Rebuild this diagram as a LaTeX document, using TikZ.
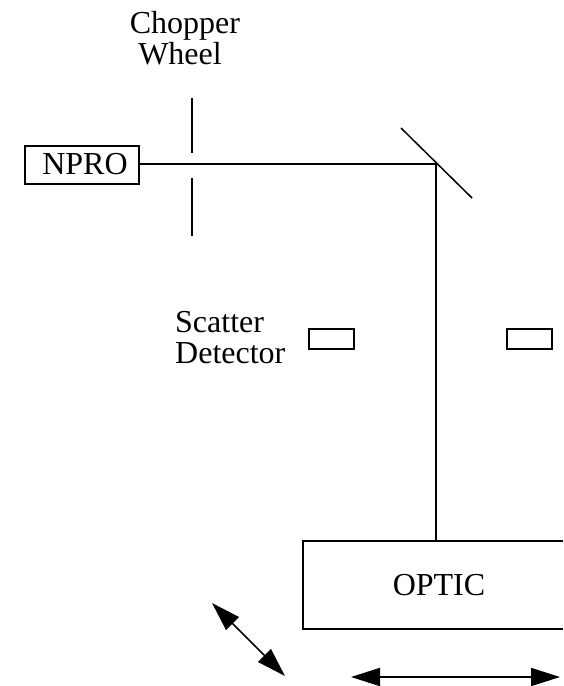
\documentclass[tikz,border=0pt]{standalone}
\usepackage{fontspec}
\setmainfont{Liberation Serif}
\usetikzlibrary{arrows.meta}
\tikzset{
  line/.style={line width=2pt,black},
  thinline/.style={line width=1.5pt,black},
  box/.style={draw,line width=2pt,inner sep=0pt,minimum width=#1},
  txt/.style={inner sep=0pt,font=\fontsize{32}{32}\selectfont,text=black},
  dbl/.style={{Triangle[length=29pt,width=18pt]}-{Triangle[length=29pt,width=18pt]}}
}
\begin{document}
\begin{tikzpicture}[x=1pt,y=-1pt]
\useasboundingbox (0,0) rectangle (563,686);
% NPRO and beam
\node[box=114pt,minimum height=38pt] (npro) at (82,165) {};
\node[txt,anchor=base] (nprotext) at (85,174) {NPRO};
\coordinate (mirrorhit) at (436,164);
\draw[line] (npro.east |- mirrorhit) -- (mirrorhit);
% chopper wheel
\coordinate (chopAtop) at (192,98);
\coordinate (chopAbot) at (192,153);
\coordinate (chopBtop) at (192,178);
\coordinate (chopBbot) at (192,236);
\draw[line] (chopAtop) -- (chopAbot);
\draw[line] (chopBtop) -- (chopBbot);
\node[txt,anchor=base] (chopper) at (185,33) {Chopper};
\node[txt,anchor=base] (wheel) at (180,64) {Wheel};
% mirror
\coordinate (mirrorA) at (401,128);
\coordinate (mirrorB) at (472,198);
\draw[thinline] (mirrorA) -- (mirrorB);
% optic
\coordinate (optictop) at (436,541);
\draw[line] (mirrorhit) -- (optictop);
\coordinate (opticTR) at (563,541);
\coordinate (opticTL) at (303,541);
\coordinate (opticBL) at (303,629);
\coordinate (opticBR) at (563,629);
\draw[line] (opticTR) -- (opticTL) -- (opticBL) -- (opticBR);
\node[txt,anchor=base] (optic) at (439,595) {OPTIC};
% scatter detectors
\node[box=45pt,minimum height=20pt] (det1) at (331.5,339) {};
\node[box=45pt,minimum height=20pt] (det2) at (529,339) {};
\node[txt,anchor=base west] (scatter) at (175,332) {Scatter};
\node[txt,anchor=base west] (detector) at (175,363) {Detector};
% motion arrows
\coordinate (diagA) at (212,603);
\coordinate (diagB) at (285,676);
\draw[thinline,dbl] (diagA) -- (diagB);
\coordinate (horA) at (351,677);
\coordinate (horB) at (560,677);
\draw[line,dbl] (horA) -- (horB);
\end{tikzpicture}
\end{document}
